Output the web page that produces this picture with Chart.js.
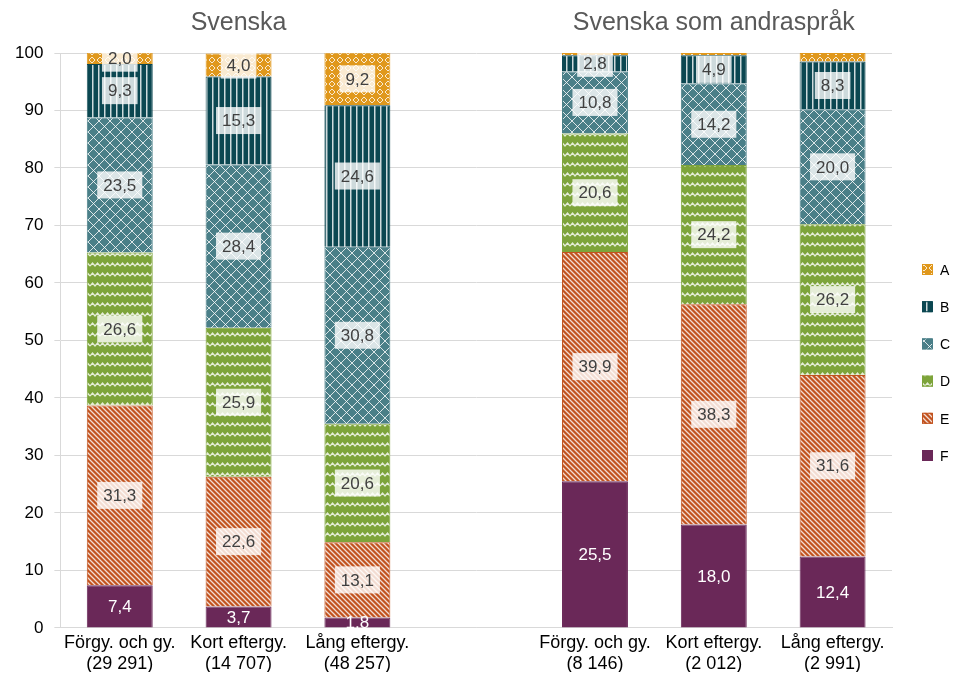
<!DOCTYPE html>
<html>
<head>
<meta charset="utf-8">
<script src="https://cdn.jsdelivr.net/npm/chart.js@4"></script>
<style>
  html, body { margin: 0; padding: 0; background: #fff; }
  #wrap { width: 956px; height: 679px; }
</style>
</head>
<body>
<div id="wrap"><canvas id="bar-graph"></canvas></div>
<script>
var categories = [
    ['Förgy. och gy.', '(29 291)'],
    ['Kort eftergy.', '(14 707)'],
    ['Lång eftergy.', '(48 257)'],
    '',
    ['Förgy. och gy.', '(8 146)'],
    ['Kort eftergy.', '(2 012)'],
    ['Lång eftergy.', '(2 991)']
];
var groupTitles = ['Svenska', 'Svenska som andraspråk'];
var valuesF = [7.4, 3.7, 1.8, null, 25.5, 18.0, 12.4];
var valuesE = [31.3, 22.6, 13.1, null, 39.9, 38.3, 31.6];
var valuesD = [26.6, 25.9, 20.6, null, 20.6, 24.2, 26.2];
var valuesC = [23.5, 28.4, 30.8, null, 10.8, 14.2, 20.0];
var valuesB = [9.3, 15.3, 24.6, null, 2.8, 4.9, 8.3];
var valuesA = [2.0, 4.0, 9.2, null, 0.4, 0.4, 1.5];
var yTicks = [0, 10, 20, 30, 40, 50, 60, 70, 80, 90, 100];

var FONT = '"Liberation Sans", Arial, sans-serif';

// little tiles for the bar fills
function makePattern(base, size, draw) {
    var c = document.createElement('canvas');
    c.width = size; c.height = size;
    var g = c.getContext('2d');
    g.fillStyle = base;
    g.fillRect(0, 0, size, size);
    g.strokeStyle = 'rgba(255,255,255,0.8)';
    g.fillStyle = 'rgba(255,255,255,0.8)';
    draw(g, size);
    return g.createPattern(c, 'repeat');
}

var ctx = document.getElementById('bar-graph').getContext('2d');

var patA = makePattern('#E0981C', 8, function (g, s) {
    g.lineWidth = 1;
    g.beginPath();
    g.moveTo(4, 1); g.lineTo(7, 4); g.lineTo(4, 7); g.lineTo(1, 4); g.closePath();
    g.stroke();
});
var patB = makePattern('#0B4751', 6, function (g, s) {
    g.fillRect(2, 0, 1.5, s);
});
var patC = makePattern('#4A7F88', 11, function (g, s) {
    g.lineWidth = 1;
    g.beginPath();
    g.moveTo(0, 0); g.lineTo(s, s);
    g.moveTo(s, 0); g.lineTo(0, s);
    g.stroke();
});
var patD = makePattern('#7DA43A', 10, function (g, s) {
    g.lineWidth = 1.3;
    g.beginPath();
    g.moveTo(0, 6); g.lineTo(2.5, 3); g.lineTo(5, 6); g.lineTo(7.5, 3); g.lineTo(10, 6);
    g.stroke();
});
var patE = makePattern('#C2531F', 5, function (g, s) {
    g.lineWidth = 1.3;
    g.beginPath();
    g.moveTo(-1, -1); g.lineTo(s + 1, s + 1);
    g.moveTo(-1, s - 1); g.lineTo(1, s + 1);
    g.moveTo(s - 1, -1); g.lineTo(s + 1, 1);
    g.stroke();
});

function ds(label, data, fill, border) {
    return {
        label: label,
        data: data,
        backgroundColor: fill,
        borderColor: border,
        borderWidth: 1,
        categoryPercentage: 1,
        barPercentage: 0.555
    };
}

// data labels, group titles and the legend on the right
var labelPlugin = {
    id: 'labels',
    afterDatasetsDraw: function (chart) {
        var c = chart.ctx;
        var area = chart.chartArea;
        c.save();
        c.beginPath();
        c.rect(area.left, area.top - 2, area.right - area.left, area.bottom - area.top + 2);
        c.clip();
        c.font = '17px ' + FONT;
        c.textAlign = 'center';
        c.textBaseline = 'middle';
        chart.data.datasets.forEach(function (d, i) {
            var meta = chart.getDatasetMeta(i);
            meta.data.forEach(function (bar, j) {
                var v = d.data[j];
                if (v == null || v < 1.6) return;
                var txt = v.toFixed(1).replace('.', ',');
                var y = (bar.y + bar.base) / 2;
                if (d.label === 'F') {
                    c.fillStyle = '#ffffff';
                    c.fillText(txt, bar.x, y + 1);
                } else {
                    var w = c.measureText(txt).width + 12;
                    c.fillStyle = 'rgba(255,255,255,0.8)';
                    c.fillRect(bar.x - w / 2, y - 13.5, w, 27);
                    c.fillStyle = '#404040';
                    c.fillText(txt, bar.x, y + 1);
                }
            });
        });
        c.restore();

        var x = chart.scales.x;
        c.save();
        c.font = '25px ' + FONT;
        c.fillStyle = '#595959';
        c.textAlign = 'center';
        c.textBaseline = 'middle';
        c.fillText(groupTitles[0], x.getPixelForValue(1), 23);
        c.fillText(groupTitles[1], x.getPixelForValue(5), 23);
        c.restore();

        // legend, A on top
        c.save();
        c.font = '14px ' + FONT;
        c.textAlign = 'left';
        c.textBaseline = 'middle';
        var sets = chart.data.datasets.slice().reverse();
        sets.forEach(function (d, k) {
            var yy = 270 + k * 37.2;
            c.fillStyle = d.backgroundColor;
            c.fillRect(922, yy - 6, 11, 11);
            c.strokeStyle = d.borderColor;
            c.lineWidth = 1;
            c.strokeRect(922.5, yy - 5.5, 10, 10);
            c.fillStyle = '#000';
            c.fillText(d.label, 940, yy + 1);
        });
        c.restore();
    }
};

var myChart = new Chart(ctx, {
    type: 'bar',
    data: {
        labels: categories,
        datasets: [
            ds('F', valuesF, '#6A2858', '#6A2858'),
            ds('E', valuesE, patE, '#C2531F'),
            ds('D', valuesD, patD, '#7DA43A'),
            ds('C', valuesC, patC, '#4A7F88'),
            ds('B', valuesB, patB, '#0B4751'),
            ds('A', valuesA, patA, '#E0981C')
        ]
    },
    options: {
        responsive: true,
        maintainAspectRatio: false,
        animation: false,
        layout: { padding: { top: 53, left: 4, right: 64, bottom: 7 } },
        scales: {
            x: {
                stacked: true,
                grid: { display: false },
                border: { color: '#d9d9d9' },
                ticks: { color: '#000', font: { size: 18, family: FONT, lineHeight: 1.17 }, maxRotation: 0, autoSkip: false, padding: -3 }
            },
            y: {
                stacked: true,
                min: 0,
                max: 100,
                afterBuildTicks: function (axis) {
                    axis.ticks = yTicks.map(function (v) { return { value: v }; });
                },
                grid: { color: '#d9d9d9', tickLength: 6 },
                border: { color: '#d9d9d9' },
                ticks: { color: '#000', font: { size: 17, family: FONT }, padding: 11 }
            }
        },
        plugins: {
            legend: { display: false },
            tooltip: { enabled: false }
        }
    },
    plugins: [labelPlugin]
});
</script>
</body>
</html>
